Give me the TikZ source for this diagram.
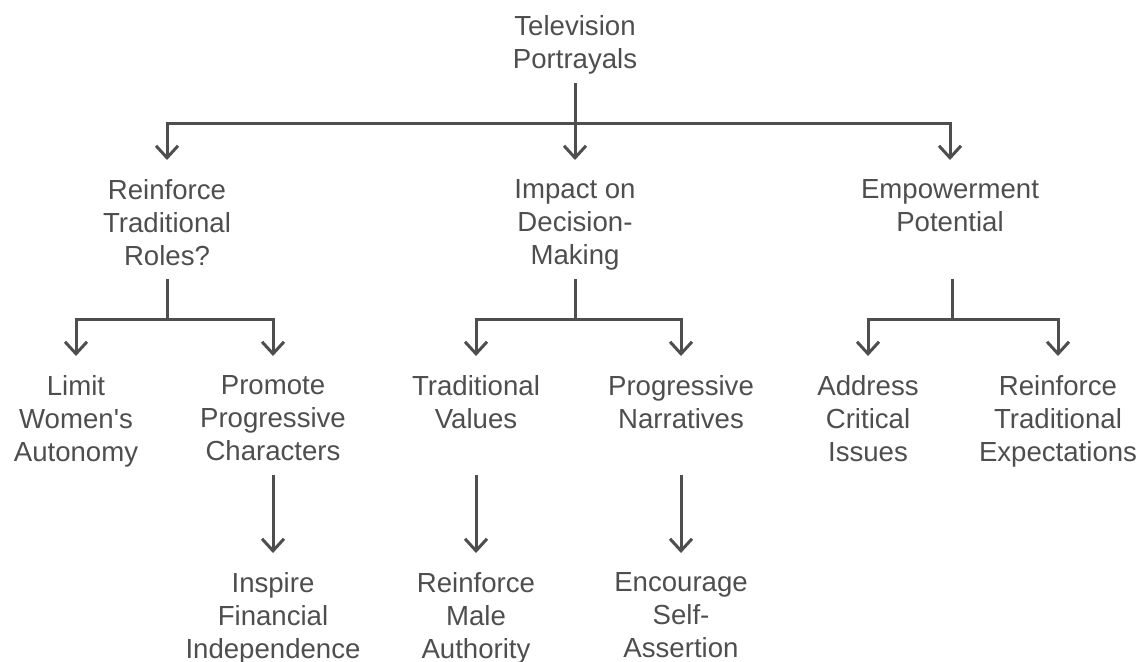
\documentclass[tikz,border=0pt]{standalone}
\usepackage{fontspec}
\setmainfont{Liberation Sans}
\usetikzlibrary{arrows.meta}
\definecolor{ink}{RGB}{78,78,78}
\tikzset{topic/.style={anchor=north,align=center,inner sep=0pt,outer sep=9.5pt,
		text=ink,font=\fontsize{13.8}{16.5}\selectfont},
	link/.style={draw=ink,line width=1.5pt},
	arr/.style={link,-{Straight Barb[length=6pt,width=11pt]}}}

\begin{document}
\begin{tikzpicture}[x=0.5pt,y=-0.5pt]
		\useasboundingbox (0,0) rectangle (1145,661);
		% root
		\node[topic,outer sep=0pt] (tv) at (575,15) {Television\\Portrayals};
		% second level
		\node[topic] (roles) at (167,160) {Reinforce\\Traditional\\Roles?};
		\node[topic] (impact) at (575,160) {Impact on\\Decision-\\Making};
		\node[topic] (empower) at (950,160) {Empowerment\\Potential};
		% third level
		\node[topic] (limit) at (76,356) {Limit\\Women\textquotesingle s\\Autonomy};
		\node[topic] (promote) at (273,356) {Promote\\Progressive\\Characters};
		\node[topic] (values) at (476,356) {Traditional\\Values};
		\node[topic] (narr) at (681,356) {Progressive\\Narratives};
		\node[topic] (issues) at (868,356) {Address\\Critical\\Issues};
		\node[topic] (expect) at (1058,356) {Reinforce\\Traditional\\Expectations};
		% fourth level
		\node[topic] (inspire) at (273,553) {Inspire\\Financial\\Independence};
		\node[topic] (male) at (476,553) {Reinforce\\Male\\Authority};
		\node[topic] (assert) at (681,553) {Encourage\\Self-\\Assertion};
		% junctions
		\coordinate (tvS) at (575,83);
		\coordinate (tvB) at (575,123);
		\coordinate (rolesS) at (167,279);
		\coordinate (rolesB) at (167,319);
		\coordinate (impactS) at (575,279);
		\coordinate (impactB) at (575,319);
		\coordinate (empowerS) at (952,279);
		\coordinate (empowerB) at (952,319);
		\coordinate (promoteS) at (273,475);
		\coordinate (valuesS) at (476,475);
		\coordinate (narrS) at (681,475);
		% connectors
		\draw[link] (tvS) -- (tvB);
		\draw[arr] (tvB) -| (roles);
		\draw[arr] (tvB) -- (impact);
		\draw[arr] (tvB) -| (empower);
		\draw[link] (rolesS) -- (rolesB);
		\draw[arr] (rolesB) -| (limit);
		\draw[arr] (rolesB) -| (promote);
		\draw[link] (impactS) -- (impactB);
		\draw[arr] (impactB) -| (values);
		\draw[arr] (impactB) -| (narr);
		\draw[link] (empowerS) -- (empowerB);
		\draw[arr] (empowerB) -| (issues);
		\draw[arr] (empowerB) -| (expect);
		\draw[arr] (promoteS) -- (inspire);
		\draw[arr] (valuesS) -- (male);
		\draw[arr] (narrS) -- (assert);
	\end{tikzpicture}
\end{document}
